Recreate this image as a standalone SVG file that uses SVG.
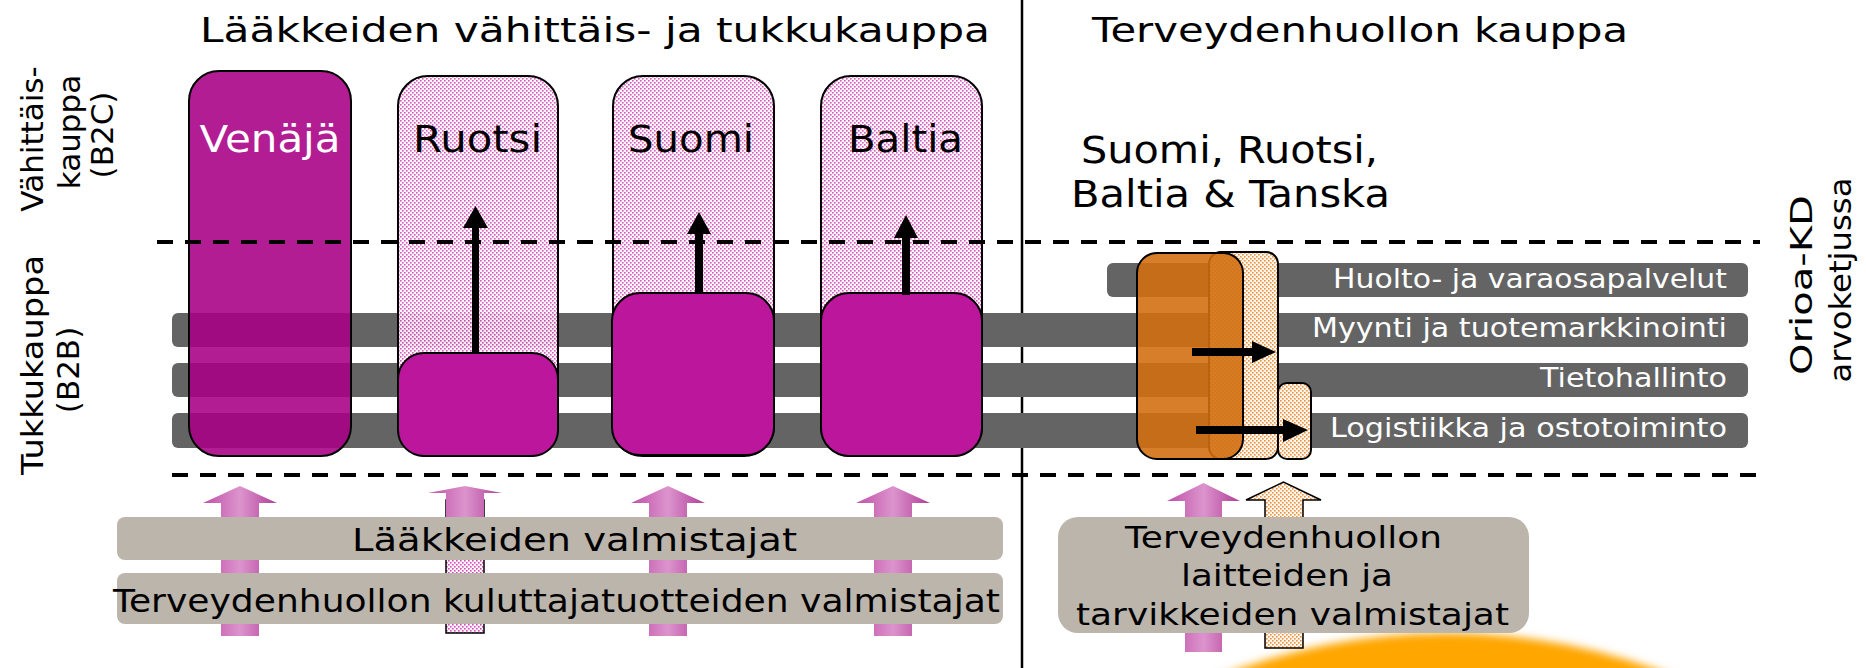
<svg xmlns="http://www.w3.org/2000/svg" width="1866" height="668" viewBox="0 0 1866 668">
<style>
.t{font-family:"DejaVu Sans","Noto Sans",sans-serif;fill:#000}
.w{fill:#fff}
.bar{fill:#646464}
.dash{stroke:#000;stroke-width:4;stroke-dasharray:16 12;fill:none}
.box{stroke:#000;stroke-width:2}
.sup{fill:url(#pinkGrad)}
</style>
<defs>
<pattern id="pinkDots" width="4" height="4" patternUnits="userSpaceOnUse">
<rect width="4" height="4" fill="#fff6fc"/>
<rect x="0" y="0" width="1.6" height="1.6" fill="#d24db5"/>
<rect x="2" y="2" width="1.6" height="1.6" fill="#d24db5"/>
</pattern>
<pattern id="orDots" width="4" height="4" patternUnits="userSpaceOnUse">
<rect width="4" height="4" fill="#fff6ee"/>
<rect x="0" y="0" width="1.6" height="1.6" fill="#e9923f"/>
<rect x="2" y="2" width="1.6" height="1.6" fill="#e9923f"/>
</pattern>
<linearGradient id="pinkGrad" x1="0" y1="0" x2="1" y2="0">
<stop offset="0" stop-color="#c04fa8"/>
<stop offset="0.5" stop-color="#dc94cd"/>
<stop offset="1" stop-color="#b13d98"/>
</linearGradient>
<filter id="soft" x="-10%" y="-10%" width="120%" height="120%">
<feGaussianBlur stdDeviation="4"/>
</filter>
</defs>

<!-- sun -->
<circle cx="1447" cy="1251" r="618" fill="#ffa600" filter="url(#soft)"/>

<!-- headers -->
<text class="t" x="595" y="42" font-size="33" text-anchor="middle" textLength="790" lengthAdjust="spacingAndGlyphs">Lääkkeiden vähittäis- ja tukkukauppa</text>
<text class="t" x="1360" y="42" font-size="33" text-anchor="middle" textLength="536" lengthAdjust="spacingAndGlyphs">Terveydenhuollon kauppa</text>

<!-- side labels -->
<g id="label-b2c">
<text class="t" font-size="31" text-anchor="middle" transform="translate(43 139) rotate(-90)">Vähittäis-</text>
<text class="t" font-size="31" text-anchor="middle" transform="translate(80 132) rotate(-90)">kauppa</text>
<text class="t" font-size="31" text-anchor="middle" transform="translate(113 135) rotate(-90)">(B2C)</text>
</g>
<g id="label-b2b">
<text class="t" font-size="31" text-anchor="middle" transform="translate(43 365) rotate(-90)" textLength="220" lengthAdjust="spacingAndGlyphs">Tukkukauppa</text>
<text class="t" font-size="31" text-anchor="middle" transform="translate(79 370) rotate(-90)">(B2B)</text>
</g>
<g id="label-orioa">
<text class="t" font-size="31" text-anchor="middle" transform="translate(1812 285) rotate(-90)" textLength="180" lengthAdjust="spacingAndGlyphs">Orioa-KD</text>
<text class="t" font-size="31" text-anchor="middle" transform="translate(1851 280) rotate(-90)" textLength="205" lengthAdjust="spacingAndGlyphs">arvoketjussa</text>
</g>

<!-- divider -->
<line x1="1022" y1="0" x2="1022" y2="668" stroke="#000" stroke-width="2.5"/>

<!-- function bars -->
<g id="bar-huolto">
<rect class="bar" x="1107" y="263" width="641" height="34" rx="6"/>
<text class="t w" x="1333" y="288" font-size="26" textLength="394" lengthAdjust="spacingAndGlyphs">Huolto- ja varaosapalvelut</text>
</g>
<g id="bar-myynti">
<rect class="bar" x="172" y="313" width="1576" height="34" rx="6"/>
<text class="t w" x="1312" y="337" font-size="26" textLength="415" lengthAdjust="spacingAndGlyphs">Myynti ja tuotemarkkinointi</text>
</g>
<g id="bar-tieto">
<rect class="bar" x="172" y="363" width="1576" height="34" rx="6"/>
<text class="t w" x="1540" y="387" font-size="26" textLength="187" lengthAdjust="spacingAndGlyphs">Tietohallinto</text>
</g>
<g id="bar-logistiikka">
<rect class="bar" x="172" y="413" width="1576" height="35" rx="6"/>
<text class="t w" x="1330" y="437" font-size="26" textLength="397" lengthAdjust="spacingAndGlyphs">Logistiikka ja ostotoiminto</text>
</g>

<!-- country columns -->
<g id="venaja">
<rect class="box" x="189" y="71" width="162" height="385" rx="30" fill="#a90085" fill-opacity="0.885"/>
<text class="t w" x="270" y="152" font-size="37" text-anchor="middle" textLength="141" lengthAdjust="spacingAndGlyphs">Venäjä</text>
</g>
<g id="ruotsi">
<rect class="box" x="398" y="76" width="160" height="380" rx="30" fill="url(#pinkDots)" fill-opacity="0.92"/>
<rect class="box" x="398" y="353" width="160" height="103" rx="26" fill="#bc169c"/>
<text class="t" x="477.5" y="152" font-size="37" text-anchor="middle" textLength="129" lengthAdjust="spacingAndGlyphs">Ruotsi</text>
</g>
<g id="suomi">
<rect class="box" x="613" y="76" width="161" height="380" rx="30" fill="url(#pinkDots)" fill-opacity="0.92"/>
<rect class="box" x="612" y="293" width="162" height="162" rx="28" fill="#bc169c"/>
<text class="t" x="691" y="152" font-size="37" text-anchor="middle" textLength="126" lengthAdjust="spacingAndGlyphs">Suomi</text>
</g>
<g id="baltia">
<rect class="box" x="821" y="76" width="161" height="380" rx="30" fill="url(#pinkDots)" fill-opacity="0.92"/>
<rect class="box" x="821" y="293" width="161" height="163" rx="28" fill="#bc169c"/>
<text class="t" x="905.5" y="152" font-size="37" text-anchor="middle" textLength="115" lengthAdjust="spacingAndGlyphs">Baltia</text>
</g>

<!-- healthcare block -->
<g id="terveys">
<text class="t" x="1229.5" y="163" font-size="37" text-anchor="middle" textLength="297" lengthAdjust="spacingAndGlyphs">Suomi, Ruotsi,</text>
<text class="t" x="1230.5" y="207" font-size="37" text-anchor="middle" textLength="319" lengthAdjust="spacingAndGlyphs">Baltia &amp; Tanska</text>
<rect class="box" x="1209" y="252" width="69" height="207" rx="12" fill="url(#orDots)"/>
<rect class="box" x="1278" y="383" width="33" height="76" rx="9" fill="url(#orDots)"/>
<rect class="box" x="1137" y="253" width="106" height="206" rx="20" fill="#d16e10" fill-opacity="0.89"/>
</g>

<!-- dashed boundaries -->
<line class="dash" x1="157" y1="242" x2="1760" y2="242"/>
<line class="dash" x1="172" y1="475" x2="1760" y2="475"/>

<!-- connectors -->
<g id="connectors">
<path d="M472 353 V228 H463 L475.5 206 L488 228 H479 V353 Z" fill="#000"/>
<path d="M695 293 V234 H687 L699 212 L711 234 H703 V293 Z" fill="#000"/>
<path d="M902 295 V238 H894 L906 215 L918 238 H910 V295 Z" fill="#000"/>
<path d="M1192 348 H1252 V341 L1276 352 L1252 363 V356 H1192 Z" fill="#000"/>
<path d="M1196 426 H1283 V419 L1308 430 L1283 442 V434 H1196 Z" fill="#000"/>
<!-- supply arrows -->
<path class="sup" d="M221 636 V503 H203 L240 486 L277 503 H259 V636 Z"/>
<rect x="446" y="500" width="38" height="133" fill="url(#pinkDots)" stroke="#000" stroke-width="1.5"/>
<path class="sup" d="M446 517 V493 H428 L465 486 L502 493 H484 V517 Z"/>
<path class="sup" d="M649 636 V503 H631 L668 486 L705 503 H687 V636 Z"/>
<path class="sup" d="M874 636 V503 H856 L893 486 L930 503 H912 V636 Z"/>
<path class="sup" d="M1185 652 V501 H1167 L1203.5 483 L1240 501 H1222 V652 Z"/>
<path d="M1265 648 V500 H1246 L1283.5 482 L1321 500 H1303 V648 Z" fill="url(#orDots)" stroke="#000" stroke-width="1.5"/>
</g>

<!-- manufacturers -->
<g id="laakevalmistajat">
<rect x="117" y="517" width="886" height="43" rx="8" fill="#bbb5ac"/>
<text class="t" x="352" y="551" font-size="32" textLength="445" lengthAdjust="spacingAndGlyphs">Lääkkeiden valmistajat</text>
</g>
<g id="kuluttajatuotteet">
<rect x="117" y="573" width="886" height="51" rx="8" fill="#bbb5ac"/>
<text class="t" x="113" y="612" font-size="32" textLength="887" lengthAdjust="spacingAndGlyphs">Terveydenhuollon kuluttajatuotteiden valmistajat</text>
</g>
<g id="laitevalmistajat">
<rect x="1058" y="517" width="471" height="116" rx="20" fill="#bbb5ac"/>
<text class="t" x="1125" y="548" font-size="30" textLength="317" lengthAdjust="spacingAndGlyphs">Terveydenhuollon</text>
<text class="t" x="1181" y="586" font-size="30" textLength="212" lengthAdjust="spacingAndGlyphs">laitteiden ja</text>
<text class="t" x="1076" y="625" font-size="30" textLength="433" lengthAdjust="spacingAndGlyphs">tarvikkeiden valmistajat</text>
</g>
</svg>
